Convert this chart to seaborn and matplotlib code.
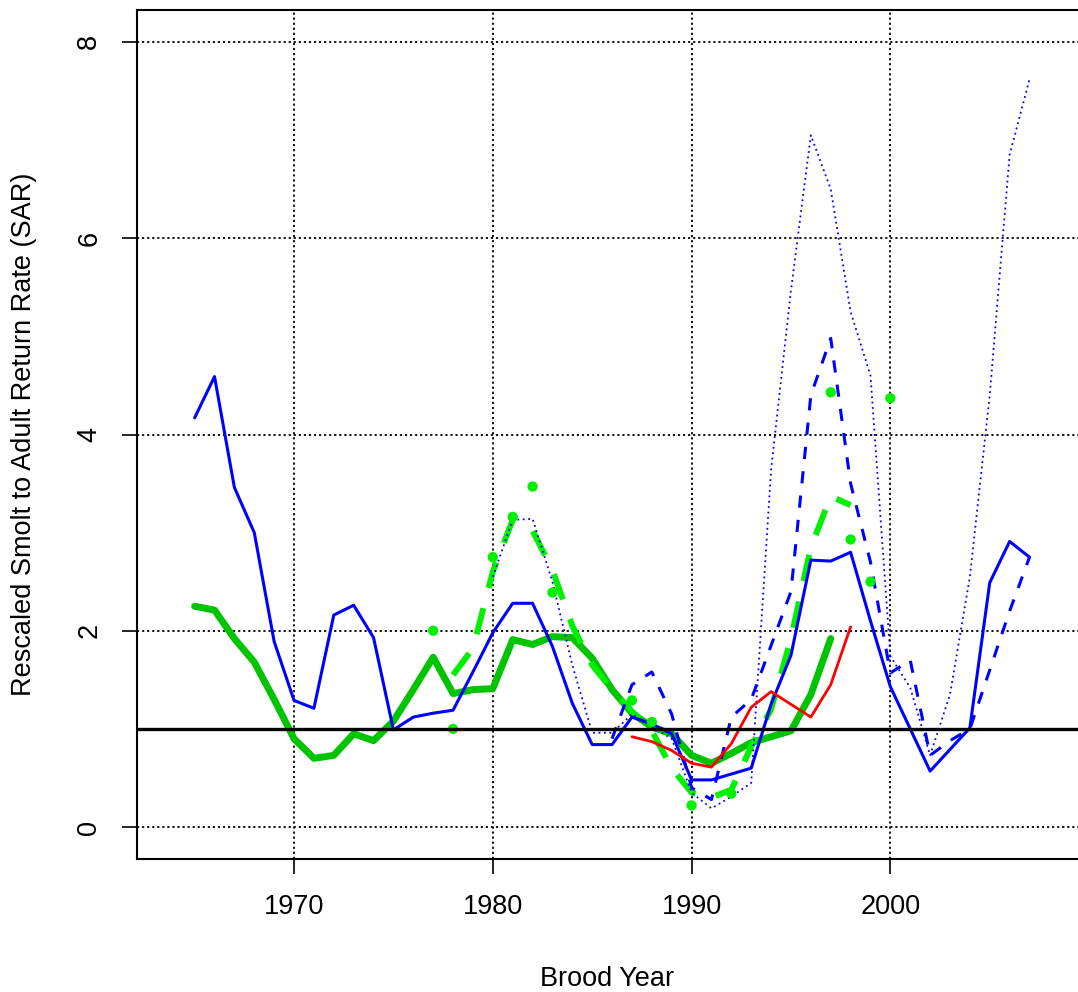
import pandas as pd
import matplotlib
matplotlib.use("Agg")
import matplotlib.pyplot as plt
import seaborn as sns

# blue solid
blue_years = list(range(1965, 2008))
blue_vals = [4.17, 4.59, 3.46, 3.00, 1.89, 1.29, 1.21, 2.16, 2.26, 1.93,
             0.99, 1.12, 1.16, 1.19, 1.58, 1.98, 2.28, 2.28, 1.84, 1.26,
             0.84, 0.84, 1.12, 1.05, 0.95, 0.48, 0.48, 0.54, 0.60, 1.25,
             1.75, 2.72, 2.71, 2.80, 2.10, 1.43, 1.00, 0.57, 0.79, 1.01,
             2.49, 2.91, 2.75]

# blue dashed
bdash_years = list(range(1986, 2008))
bdash_vals = [0.90, 1.45, 1.58, 1.15, 0.40, 0.28, 1.12, 1.30, 1.85, 2.40,
              4.40, 4.98, 3.50, 2.70, 1.57, 1.70, 0.73, 0.88, 1.00, 1.60,
              2.20, 2.75]

# blue dotted
bdot_years = list(range(1980, 2008))
bdot_vals = [2.55, 3.13, 3.14, 2.50, 1.65, 0.96, 0.96, 1.15, 1.02, 0.90,
             0.35, 0.19, 0.31, 0.45, 3.64, 5.47, 7.05, 6.50, 5.25, 4.60,
             1.74, 1.42, 0.73, 1.35, 2.55, 4.40, 6.85, 7.62]

# thick green
green_years = list(range(1965, 1998))
green_vals = [2.25, 2.21, 1.92, 1.68, 1.30, 0.90, 0.70, 0.73, 0.95, 0.88,
              1.08, 1.40, 1.73, 1.36, 1.40, 1.41, 1.91, 1.86, 1.94, 1.93,
              1.72, 1.40, 1.16, 1.02, 0.95, 0.73, 0.65, 0.75, 0.86, 0.92,
              0.98, 1.35, 1.92]

# bright green dashed
gdash_years = list(range(1978, 1999))
gdash_vals = [1.55, 1.82, 2.60, 3.13, 3.02, 2.62, 2.05, 1.65, 1.40, 1.18,
              0.98, 0.60, 0.35, 0.30, 0.38, 0.82, 1.20, 1.92, 2.85, 3.37,
              3.28]

# green points
gpt_years = [1977, 1978, 1980, 1981, 1982, 1983, 1987, 1988, 1990, 1992,
             1997, 1998, 1999, 2000]
gpt_vals = [2.00, 1.00, 2.75, 3.16, 3.47, 2.39, 1.29, 1.07, 0.22, 0.34,
            4.43, 2.93, 2.50, 4.37]

# red
red_years = list(range(1987, 1999))
red_vals = [0.92, 0.87, 0.78, 0.65, 0.61, 0.85, 1.22, 1.38, 1.25, 1.12,
            1.45, 2.04]

sns.set_style("white")
plt.rcParams['font.family'] = ['Liberation Sans', 'DejaVu Sans']
plt.rcParams['text.color'] = 'black'
plt.rcParams['axes.labelcolor'] = 'black'

fig = plt.figure(figsize=(10.78, 9.92), dpi=100)
ax = fig.add_axes([137 / 1078, 133 / 992, 941 / 1078, 849 / 992])

# grid
for yv in [0, 2, 4, 6, 8]:
    ax.axhline(yv, color='black', lw=1.3, linestyle=(0, (1.2, 1.6)), zorder=1)
for xv in [1970, 1980, 1990, 2000]:
    ax.axvline(xv, color='black', lw=1.3, linestyle=(0, (1.2, 1.6)), zorder=1)

sns.lineplot(x=green_years, y=green_vals, ax=ax, color='#00C400', lw=5.0,
             solid_capstyle='round', solid_joinstyle='round', zorder=3)
sns.lineplot(x=gdash_years, y=gdash_vals, ax=ax, color='#00F000', lw=4.3,
             linestyle=(0, (4.5, 3.5)), zorder=3)
sns.lineplot(x=blue_years, y=blue_vals, ax=ax, color='#0000FF', lw=2.2, zorder=4)
sns.lineplot(x=bdash_years, y=bdash_vals, ax=ax, color='#0000FF', lw=2.2,
             linestyle=(0, (4, 4)), zorder=4)
sns.lineplot(x=bdot_years, y=bdot_vals, ax=ax, color='#0000FF', lw=1.3,
             linestyle=(0, (1, 2)), zorder=4)
sns.lineplot(x=red_years, y=red_vals, ax=ax, color='#FF0000', lw=2.0, zorder=5)
sns.scatterplot(x=gpt_years, y=gpt_vals, ax=ax, color='#00F000', s=55,
                edgecolor='none', zorder=6)
ax.axhline(1, color='black', lw=2.4, zorder=7)

ax.set_xlim(1962.1, 2009.44)
ax.set_ylim(-0.326, 8.326)
ax.set_xticks([1970, 1980, 1990, 2000])
ax.set_yticks([0, 2, 4, 6, 8])
ax.set_yticklabels(['0', '2', '4', '6', '8'], rotation=90, va='center')

for side in ['left', 'top', 'bottom']:
    ax.spines[side].set_visible(True)
    ax.spines[side].set_color('black')
    ax.spines[side].set_linewidth(1.5)
ax.spines['right'].set_visible(False)

ax.tick_params(axis='both', which='both', direction='out', length=11, width=1.2,
               colors='black', labelcolor='black', labelsize=19.5, pad=14,
               left=True, bottom=True)
ax.set_xlabel('Brood Year', fontsize=19.5, labelpad=33)
ax.set_ylabel('Rescaled Smolt to Adult Return Rate (SAR)', fontsize=19.5,
              labelpad=28)

fig.savefig('out.png', dpi=100)
